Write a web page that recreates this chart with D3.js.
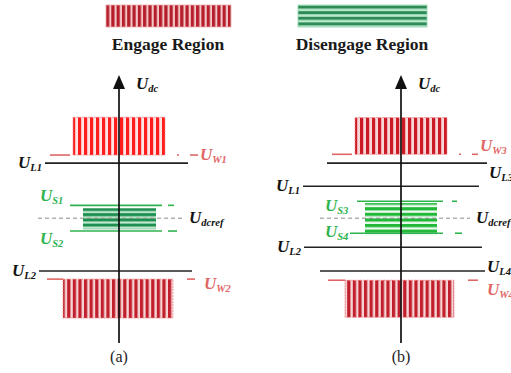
<!DOCTYPE html>
<html>
<head>
<meta charset="utf-8">
<script src="https://cdn.jsdelivr.net/npm/d3@7"></script>
<style>
  body { margin: 0; background: #fff; }
  text { font-family: "Liberation Serif", "DejaVu Serif", serif; }
</style>
</head>
<body>
<svg width="511" height="373"></svg>
<script>
// levels are per-unit of Udcref, horizontal extents relative to the axis (-1..1)
var panels = ["(a)", "(b)"];

var engageRegions = [
  {panel: "(a)", hi: 1.275, lo: 1.172, x0: -0.46, x1: 0.46, fill: "redBright"},
  {panel: "(a)", hi: 0.834, lo: 0.728, x0: -0.56, x1: 0.54, fill: "redDark"},
  {panel: "(b)", hi: 1.274, lo: 1.174, x0: -0.46, x1: 0.46, fill: "redMid"},
  {panel: "(b)", hi: 0.831, lo: 0.730, x0: -0.56, x1: 0.53, fill: "redDark"}
];

var disengageRegions = [
  {panel: "(a)", hi: 1.027, lo: 0.970, x0: -0.36, x1: 0.37, fill: "greenDark"},
  {panel: "(b)", hi: 1.041, lo: 0.954, x0: -0.36, x1: 0.36, fill: "greenBright"}
];

// black limit lines
var limitLines = [
  {panel: "(a)", name: "L1", v: 1.150, x0: -0.74, x1: 0.69},
  {panel: "(a)", name: "L2", v: 0.856, x0: -0.80, x1: 0.73},
  {panel: "(b)", name: "L3", v: 1.150, x0: -0.74, x1: 0.86},
  {panel: "(b)", name: "L1", v: 1.087, x0: -0.98, x1: 0.78},
  {panel: "(b)", name: "L2", v: 0.921, x0: -0.97, x1: 0.81},
  {panel: "(b)", name: "L4", v: 0.856, x0: -0.81, x1: 0.84}
];

// red warning levels: left stub, then dot + dash to the right
var warnLines = [
  {panel: "(a)", name: "W1", v: 1.172, x0: -0.69, x1: -0.49, dot: 0.59, d0: 0.71, d1: 0.79},
  {panel: "(a)", name: "W2", v: 0.834, x0: -0.72, x1: -0.56, dot: null, d0: 0.68, d1: 0.76},
  {panel: "(b)", name: "W3", v: 1.174, x0: -0.69, x1: -0.49, dot: 0.59, d0: 0.71, d1: 0.77},
  {panel: "(b)", name: "W4", v: 0.831, x0: -0.73, x1: -0.56, dot: null, d0: 0.67, d1: 0.77}
];

// green steady levels
var steadyLines = [
  {panel: "(a)", name: "S1", v: 1.035, x0: -0.49, x1: 0.43, d0: 0.49, d1: 0.55},
  {panel: "(a)", name: "S2", v: 0.965, x0: -0.49, x1: 0.43, d0: 0.49, d1: 0.58},
  {panel: "(b)", name: "S3", v: 1.046, x0: -0.44, x1: 0.42, d0: 0.51, d1: 0.56},
  {panel: "(b)", name: "S4", v: 0.959, x0: -0.51, x1: 0.42, d0: 0.54, d1: 0.61}
];

var refLines = [
  {panel: "(a)", v: 1.0, x0: -0.81, x1: 0.64},
  {panel: "(b)", v: 1.0, x0: -0.81, x1: 0.69}
];

var legendItems = ["Engage Region", "Disengage Region"];

var svg = d3.select("svg");

var px = d3.scalePoint().domain(panels).range([119, 401]);
var dx = d3.scaleLinear().domain([-1, 1]).range([-100, 100]);
var y = d3.scaleLinear().domain([0.66, 1.39]).range([343, 75]);
function X(p, u) { return px(p) + dx(u); }

var red = "#e06666", green = "#2fb34f";

// stripe patterns
var defs = svg.append("defs");
function vStripe(id, c, bg, w, period) {
  var p = defs.append("pattern").attr("id", id).attr("patternUnits", "userSpaceOnUse")
    .attr("width", period).attr("height", 10);
  p.append("rect").attr("width", period).attr("height", 10).attr("fill", bg);
  p.append("rect").attr("width", w).attr("height", 10).attr("fill", c);
}
function hStripe(id, c, bg, w, period) {
  var p = defs.append("pattern").attr("id", id).attr("patternUnits", "userSpaceOnUse")
    .attr("width", 10).attr("height", period);
  p.append("rect").attr("width", 10).attr("height", period).attr("fill", bg);
  p.append("rect").attr("width", 10).attr("height", w).attr("fill", c);
}
vStripe("redBright", "#ff1c1c", "#ffe4e4", 3.2, 6);
vStripe("redMid", "#cc1a24", "#f7d6d8", 3.2, 6);
vStripe("redDark", "#c01f2b", "#f6d4d6", 3.2, 5.6);
vStripe("redLegend", "#b51e2a", "#f3c6c8", 3.2, 5.3);
hStripe("greenDark", "#1e8f4e", "#bfe8cf", 3, 5.2);
hStripe("greenBright", "#22b83a", "#eafaee", 3.2, 5.6);
hStripe("greenLegend", "#2e8b57", "#b8e8cb", 3, 5.6);

// legend
var legend = svg.append("g");
var legX = d3.scalePoint().domain(legendItems).range([168, 362]);
legend.selectAll("rect").data(legendItems).enter().append("rect")
  .attr("x", function (d, i) { return legX(d) - (i ? 64 : 62); })
  .attr("y", 5)
  .attr("width", function (d, i) { return i ? 129 : 125; })
  .attr("height", 22)
  .attr("fill", function (d, i) { return i ? "url(#greenLegend)" : "url(#redLegend)"; })
  .attr("stroke", function (d, i) { return i ? "#8fd8ad" : "#eaa"; })
  .attr("stroke-width", 0.8);
legend.selectAll("text").data(legendItems).enter().append("text")
  .attr("x", function (d) { return legX(d); })
  .attr("y", 50)
  .attr("text-anchor", "middle")
  .attr("font-weight", "bold")
  .attr("font-size", 17.5)
  .attr("fill", "#1a1a1a")
  .text(function (d) { return d; });

var g = svg.append("g");

// regions
g.selectAll(".engage").data(engageRegions).enter().append("rect")
  .attr("class", "engage")
  .attr("x", function (d) { return X(d.panel, d.x0); })
  .attr("y", function (d) { return y(d.hi); })
  .attr("width", function (d) { return dx(d.x1) - dx(d.x0); })
  .attr("height", function (d) { return y(d.lo) - y(d.hi); })
  .attr("fill", function (d) { return "url(#" + d.fill + ")"; })
  .attr("stroke", "#f08a8a").attr("stroke-width", 0.8).attr("stroke-dasharray", "2,1");

g.selectAll(".disengage").data(disengageRegions).enter().append("rect")
  .attr("class", "disengage")
  .attr("x", function (d) { return X(d.panel, d.x0); })
  .attr("y", function (d) { return y(d.hi); })
  .attr("width", function (d) { return dx(d.x1) - dx(d.x0); })
  .attr("height", function (d) { return y(d.lo) - y(d.hi); })
  .attr("fill", function (d) { return "url(#" + d.fill + ")"; });

// reference dashed line
g.selectAll(".ref").data(refLines).enter().append("line")
  .attr("x1", function (d) { return X(d.panel, d.x0); })
  .attr("x2", function (d) { return X(d.panel, d.x1); })
  .attr("y1", function (d) { return y(d.v); })
  .attr("y2", function (d) { return y(d.v); })
  .attr("stroke", "#8a8a8a").attr("stroke-width", 1).attr("stroke-dasharray", "4,3");

// warning lines
warnLines.forEach(function (d) {
  var yy = y(d.v);
  g.append("line").attr("x1", X(d.panel, d.x0)).attr("x2", X(d.panel, d.x1))
    .attr("y1", yy).attr("y2", yy).attr("stroke", red).attr("stroke-width", 1.6);
  if (d.dot !== null)
    g.append("line").attr("x1", X(d.panel, d.dot) - 1).attr("x2", X(d.panel, d.dot) + 1)
      .attr("y1", yy).attr("y2", yy).attr("stroke", red).attr("stroke-width", 1.6);
  g.append("line").attr("x1", X(d.panel, d.d0)).attr("x2", X(d.panel, d.d1))
    .attr("y1", yy).attr("y2", yy).attr("stroke", red).attr("stroke-width", 1.6);
});

// steady lines
steadyLines.forEach(function (d) {
  var yy = y(d.v);
  g.append("line").attr("x1", X(d.panel, d.x0)).attr("x2", X(d.panel, d.x1))
    .attr("y1", yy).attr("y2", yy).attr("stroke", green).attr("stroke-width", 1.6);
  g.append("line").attr("x1", X(d.panel, d.d0)).attr("x2", X(d.panel, d.d1))
    .attr("y1", yy).attr("y2", yy).attr("stroke", green).attr("stroke-width", 1.6);
});

// limit lines
g.selectAll(".limit").data(limitLines).enter().append("line")
  .attr("x1", function (d) { return X(d.panel, d.x0); })
  .attr("x2", function (d) { return X(d.panel, d.x1); })
  .attr("y1", function (d) { return y(d.v); })
  .attr("y2", function (d) { return y(d.v); })
  .attr("stroke", "#222").attr("stroke-width", 1.6);

// vertical axes with arrow
panels.forEach(function (p) {
  var x0 = px(p);
  g.append("line").attr("x1", x0).attr("x2", x0)
    .attr("y1", y(0.66)).attr("y2", y(1.36))
    .attr("stroke", "#111").attr("stroke-width", 1.7);
  g.append("path")
    .attr("d", "M" + x0 + "," + y(1.39) + "L" + (x0 - 6) + "," + (y(1.39) + 14) +
      "L" + (x0 + 6) + "," + (y(1.39) + 14) + "Z")
    .attr("fill", "#111");
  g.append("text").attr("x", x0).attr("y", 362).attr("text-anchor", "middle")
    .attr("font-size", 16).attr("fill", "#222").text(p);
});

// labels: U with subscript
function label(x, yy, sub, color, anchor) {
  var t = g.append("text").attr("x", x).attr("y", yy)
    .attr("text-anchor", anchor || "start")
    .attr("font-weight", "bold").attr("font-style", "italic")
    .attr("fill", color);
  t.append("tspan").attr("font-size", 17).text("U");
  t.append("tspan").attr("font-size", 10.5).attr("dy", 3).text(sub);
}

label(px("(a)") + 17, 89, "dc", "#111");
label(px("(b)") + 17, 89, "dc", "#111");

limitLines.forEach(function (d) {
  var yy = y(d.v);
  if (d.panel === "(b)" && (d.name === "L3" || d.name === "L4"))
    label(X(d.panel, d.x1) + 2, yy + (d.name === "L3" ? 15 : 1), d.name, "#111");
  else
    label(X(d.panel, d.x0) - 3, yy + 5, d.name, "#111", "end");
});

warnLines.forEach(function (d) {
  var yy = y(d.v);
  var up = d.dot !== null;
  label(X(d.panel, d.d1) + (up ? 2 : 9), yy + (up ? (d.panel === "(a)" ? 5 : -3) : (d.panel === "(a)" ? 10 : 15)),
    d.name, red);
});

steadyLines.forEach(function (d, i) {
  var yy = y(d.v);
  var top = (i % 2 === 0);
  if (d.panel === "(a)")
    label(X(d.panel, -0.79), yy + (top ? -4 : 13), d.name, green);
  else
    label(X(d.panel, -0.76), yy + (top ? 10 : 4), d.name, green);
});

refLines.forEach(function (d) {
  label(X(d.panel, d.x1) + 6, y(d.v) + 5, "dcref", "#111");
});
</script>
</body>
</html>
